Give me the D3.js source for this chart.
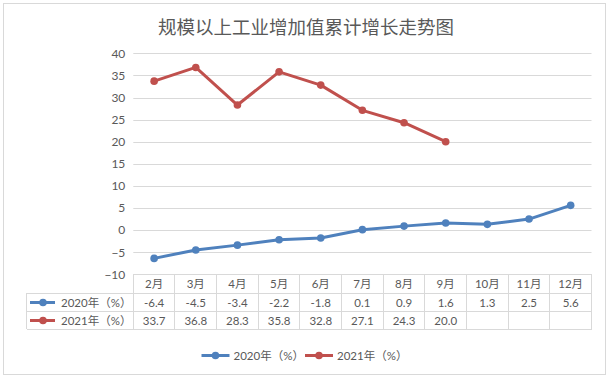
<!DOCTYPE html>
<html><head><meta charset="utf-8">
<script src="https://cdn.jsdelivr.net/npm/d3@7"></script>
<style>body{margin:0;background:#fff}svg{display:block}</style>
</head><body>
<svg id="c" width="610" height="380"></svg>
<script>
const categories = ["2月","3月","4月","5月","6月","7月","8月","9月","10月","11月","12月"];
const series2020 = [-6.4,-4.5,-3.4,-2.2,-1.8,0.1,0.9,1.6,1.3,2.5,5.6];
const series2021 = [33.7,36.8,28.3,35.8,32.8,27.1,24.3,20.0,null,null,null];
const seriesNames = ["2020年（%）","2021年（%）"];
const colors = ["#4F81BD","#C0504D"];
const yTicks = [40,35,30,25,20,15,10,5,0,-5,-10];
const title = "规模以上工业增加值累计增长走势图";

const svg = d3.select("#c");
const font = "Lato, 'Noto Sans CJK SC', sans-serif";
const cjk = "'Noto Sans CJK SC', sans-serif";
const textCol = "#595959", gridCol = "#d9d9d9";

svg.append("rect").attr("x",3.5).attr("y",3.5).attr("width",602).attr("height",371)
  .attr("fill","#fff").attr("stroke",gridCol).attr("stroke-width",1);

svg.append("text").attr("x",306).attr("y",34).attr("text-anchor","middle")
  .attr("font-family",cjk).attr("font-size",18.5).attr("fill",textCol).text(title);

const left = 133.3, right = 591.5;
const x = d3.scaleBand().domain(categories).range([left,right]);
const y = d3.scaleLinear().domain([-10,40]).range([274.3,53.3]);

// gridlines
svg.append("g").selectAll("line").data(yTicks.filter(d=>d>-10)).join("line")
  .attr("x1",left).attr("x2",right).attr("y1",d=>Math.round(y(d))+0.5).attr("y2",d=>Math.round(y(d))+0.5)
  .attr("stroke",gridCol).attr("stroke-width",1);

// y axis labels
const yAxis = d3.axisLeft(y).tickValues(yTicks).tickSize(0).tickPadding(0);
const ga = svg.append("g").attr("transform",`translate(${left-8},0)`).call(yAxis);
ga.select(".domain").remove();
ga.selectAll("text").attr("font-family",font).attr("font-size",12).attr("fill",textCol);

// lines
const allSeries = [series2020, series2021];
allSeries.forEach((s,i)=>{
  const pts = s.map((v,j)=>({c:categories[j],v})).filter(d=>d.v!=null);
  const line = d3.line().x(d=>x(d.c)+x.bandwidth()/2).y(d=>y(d.v));
  svg.append("path").datum(pts).attr("d",line).attr("fill","none")
    .attr("stroke",colors[i]).attr("stroke-width",3).attr("stroke-linejoin","round").attr("stroke-linecap","round");
  svg.append("g").selectAll("circle").data(pts).join("circle")
    .attr("cx",d=>x(d.c)+x.bandwidth()/2).attr("cy",d=>y(d.v)).attr("r",3.8).attr("fill",colors[i]);
});

// data table
const rowY = [274.7, 293.3, 311.7, 329.3];
const labLeft = 26.7;
const tg = svg.append("g").attr("stroke",gridCol).attr("stroke-width",1).attr("shape-rendering","crispEdges");
// horizontal lines
tg.append("line").attr("x1",left).attr("x2",right).attr("y1",rowY[0]).attr("y2",rowY[0]);
[1,2,3].forEach(k=>tg.append("line").attr("x1",labLeft).attr("x2",right).attr("y1",rowY[k]).attr("y2",rowY[k]));
// vertical lines
tg.append("line").attr("x1",labLeft).attr("x2",labLeft).attr("y1",rowY[1]).attr("y2",rowY[3]);
const vx = categories.map(c=>x(c)).concat([right]);
vx.forEach(v=>tg.append("line").attr("x1",v).attr("x2",v).attr("y1",rowY[0]).attr("y2",rowY[3]));

// header text
svg.append("g").selectAll("text").data(categories).join("text")
  .attr("x",d=>x(d)+x.bandwidth()/2).attr("y",(rowY[0]+rowY[1])/2+4)
  .attr("text-anchor","middle").attr("font-family",font).attr("font-size",11.5).attr("fill",textCol).text(d=>d);

allSeries.forEach((s,i)=>{
  const cy = (rowY[i+1]+rowY[i+2])/2;
  svg.append("g").selectAll("text").data(s.map((v,j)=>({c:categories[j],v})).filter(d=>d.v!=null)).join("text")
    .attr("x",d=>x(d.c)+x.bandwidth()/2).attr("y",cy+4)
    .attr("text-anchor","middle").attr("font-family",font).attr("font-size",11.5).attr("fill",textCol)
    .text(d=>d.v.toFixed(1));
  // row legend key
  svg.append("line").attr("x1",30).attr("x2",55).attr("y1",cy).attr("y2",cy)
    .attr("stroke",colors[i]).attr("stroke-width",3);
  svg.append("circle").attr("cx",43).attr("cy",cy).attr("r",3.8).attr("fill",colors[i]);
  svg.append("text").attr("x",61).attr("y",cy+4).attr("font-family",font).attr("font-size",11.5)
    .attr("fill",textCol).text(seriesNames[i]);
});

// bottom legend
const legX = [201.5, 305];
seriesNames.forEach((n,i)=>{
  const ly = 355.5, lx = legX[i];
  svg.append("line").attr("x1",lx).attr("x2",lx+28).attr("y1",ly).attr("y2",ly)
    .attr("stroke",colors[i]).attr("stroke-width",3);
  svg.append("circle").attr("cx",lx+14).attr("cy",ly).attr("r",3.8).attr("fill",colors[i]);
  svg.append("text").attr("x",lx+32).attr("y",ly+4).attr("font-family",font).attr("font-size",11.5)
    .attr("fill",textCol).text(n);
});
</script>
</body></html>
